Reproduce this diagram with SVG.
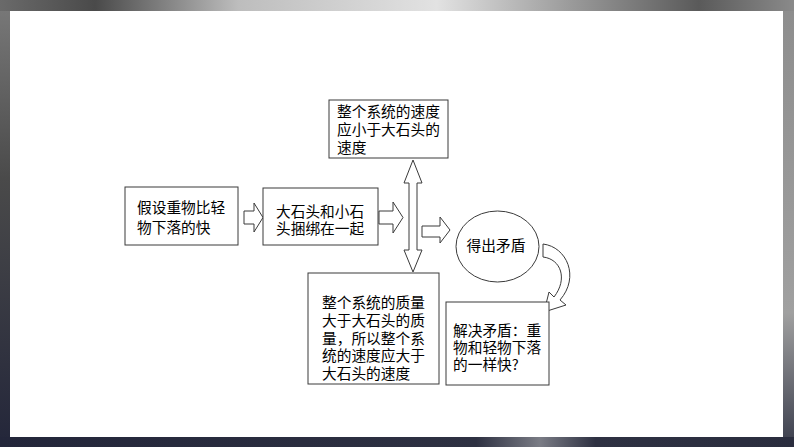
<svg xmlns="http://www.w3.org/2000/svg" width="794" height="447" viewBox="0 0 794 447">
  <defs>
    <linearGradient id="topg" x1="0" y1="0" x2="1" y2="0">
      <stop offset="0" stop-color="#6a6a6a"/>
      <stop offset="0.12" stop-color="#4a4a4a"/>
      <stop offset="0.3" stop-color="#bdbdbd"/>
      <stop offset="0.55" stop-color="#e2e2e2"/>
      <stop offset="0.72" stop-color="#9a9a9a"/>
      <stop offset="0.88" stop-color="#5a5a5a"/>
      <stop offset="1" stop-color="#8a8a8a"/>
    </linearGradient>
    <linearGradient id="botg" x1="0" y1="0" x2="1" y2="0">
      <stop offset="0" stop-color="#23263a"/>
      <stop offset="0.6" stop-color="#2e3142"/>
      <stop offset="0.68" stop-color="#7a7c85"/>
      <stop offset="0.75" stop-color="#2e3142"/>
      <stop offset="1" stop-color="#2a2d3e"/>
    </linearGradient>
    <linearGradient id="leftg" x1="0" y1="0" x2="0" y2="1">
      <stop offset="0" stop-color="#7a7a7a"/>
      <stop offset="0.4" stop-color="#4a4a4a"/>
      <stop offset="1" stop-color="#23263a"/>
    </linearGradient>
    <linearGradient id="rightg" x1="0" y1="0" x2="0" y2="1">
      <stop offset="0" stop-color="#8d8d8d"/>
      <stop offset="0.7" stop-color="#a0a0a0"/>
      <stop offset="1" stop-color="#3a3d4c"/>
    </linearGradient>
    <style>
      .box { fill: #ffffff; stroke: #3a3a3a; stroke-width: 1; }
      .arr { fill: #ffffff; stroke: #3a3a3a; stroke-width: 1; stroke-linejoin: miter; }
      .t { font-family: "Noto Sans CJK SC", "Noto Sans", sans-serif; font-size: 14.7px; fill: #000000; }
    </style>
  </defs>

  <!-- decorative frame -->
  <rect x="0" y="0" width="794" height="447" fill="#5a5a5a"/>
  <rect x="0" y="0" width="10" height="447" fill="url(#leftg)"/>
  <rect x="783" y="0" width="11" height="447" fill="url(#rightg)"/>
  <rect x="0" y="0" width="794" height="11" fill="url(#topg)"/>
  <rect x="0" y="437" width="794" height="10" fill="url(#botg)"/>
  <rect x="10" y="11" width="773" height="426" fill="#ffffff"/>

  <g id="connectors">
    <path class="arr" d="M244,211 L254,211 L254,203 L263,217.5 L254,232 L254,224 L244,224 Z"/>
    <path class="arr" d="M379,211 L393,211 L393,202 L403,217.5 L393,233 L393,224 L379,224 Z"/>
    <path class="arr" d="M413,160 L422,183 L417,183 L417,250 L422,250 L413,272 L404,250 L409,250 L409,183 L404,183 Z"/>
    <path class="arr" d="M422,226 L440,226 L440,217 L450,230 L440,243 L440,237 L422,237 Z"/>
    <path class="arr" d="M543,244 C567,247 580,277 560,300 L566,305 L544,312 L549,292 L554,297 C568,279 561,259 543,257 Z"/>
  </g>

  <g id="node-assume">
    <rect class="box" x="125" y="187" width="113" height="58"/>
    <text class="t"><tspan x="137" y="213">假设重物比轻</tspan><tspan x="137" y="233">物下落的快</tspan></text>
  </g>

  <g id="node-tie">
    <rect class="box" x="263" y="188" width="115" height="57"/>
    <text class="t"><tspan x="276" y="217">大石头和小石</tspan><tspan x="276" y="234">头捆绑在一起</tspan></text>
  </g>

  <g id="node-slower">
    <rect class="box" x="329" y="100" width="119" height="58"/>
    <text class="t"><tspan x="337" y="117">整个系统的速度</tspan><tspan x="337" y="135">应小于大石头的</tspan><tspan x="337" y="153">速度</tspan></text>
  </g>

  <g id="node-heavier">
    <rect class="box" x="308" y="273" width="131" height="111"/>
    <text class="t"><tspan x="322" y="308">整个系统的质量</tspan><tspan x="322" y="326">大于大石头的质</tspan><tspan x="322" y="344">量，所以整个系</tspan><tspan x="322" y="361">统的速度应大于</tspan><tspan x="322" y="379">大石头的速度</tspan></text>
  </g>

  <g id="node-contradiction">
    <ellipse class="box" cx="497.5" cy="246.5" rx="41.5" ry="35.5"/>
    <text class="t" x="496" y="251" text-anchor="middle">得出矛盾</text>
  </g>

  <g id="node-resolve">
    <rect class="box" x="446" y="302" width="103" height="83"/>
    <text class="t"><tspan x="453" y="336">解决矛盾：重</tspan><tspan x="453" y="353">物和轻物下落</tspan><tspan x="453" y="370">的一样快?</tspan></text>
  </g>
</svg>
